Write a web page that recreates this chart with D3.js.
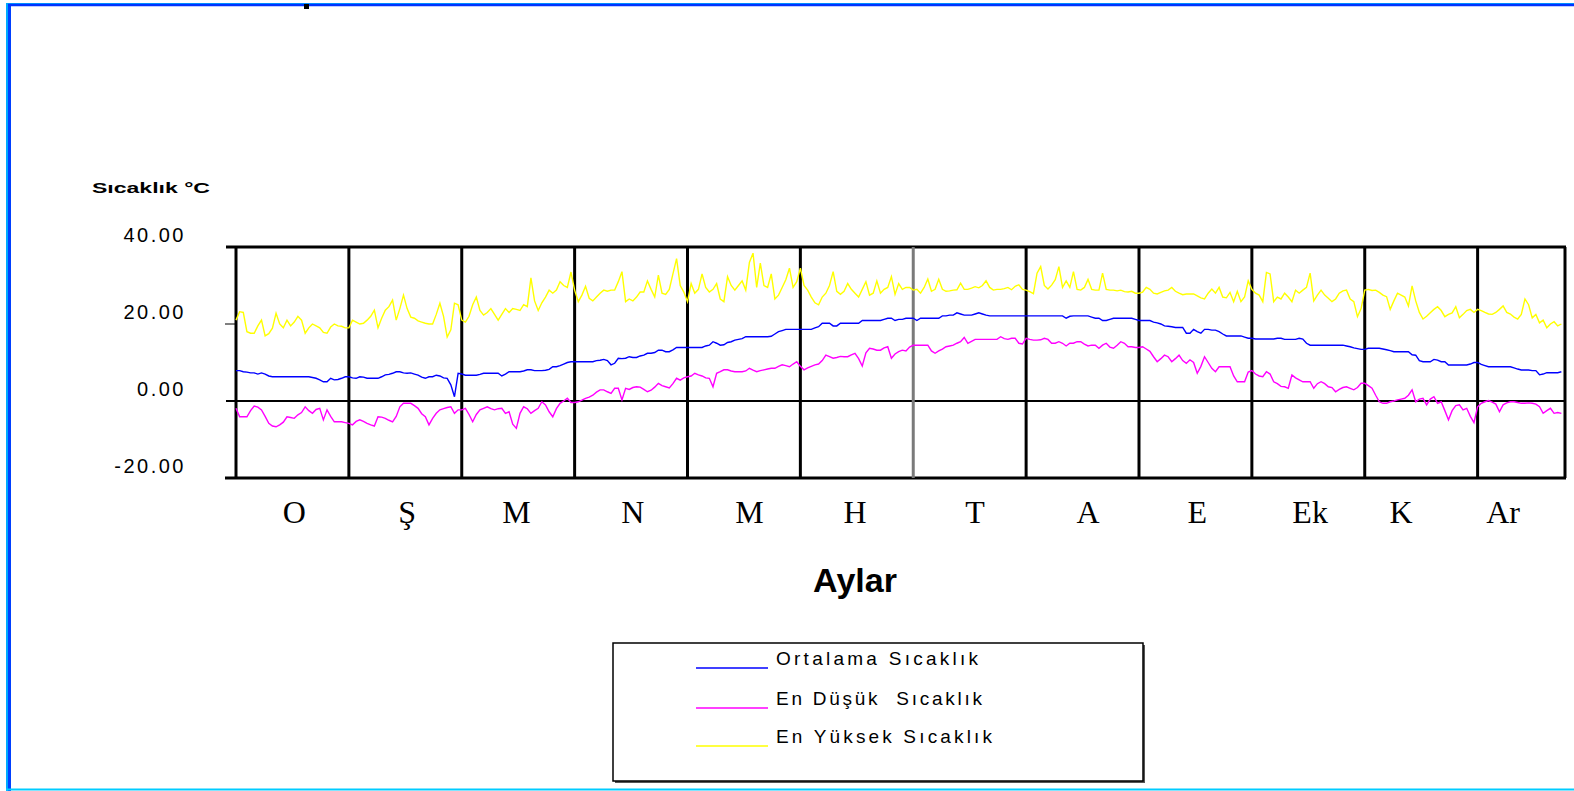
<!DOCTYPE html>
<html>
<head>
<meta charset="utf-8">
<script src="https://cdn.jsdelivr.net/npm/d3@7/dist/d3.min.js"></script>
<style>
  html, body { margin: 0; padding: 0; background: #ffffff; }
  svg { display: block; }
</style>
</head>
<body>
<svg id="chart" width="1574" height="791"></svg>
<script>
// Daily temperature series (°C), one value per day of the year.
const avgTemp = [
  7.9, 7.9, 7.6, 7.5, 7.3, 7.3, 7.0, 7.3, 7.0, 6.5, 6.3, 6.3, 6.3, 6.3, 6.3, 6.3, 6.3, 6.3, 6.3, 6.3, 6.3, 6.1, 5.9, 5.5, 5.0, 5.0, 5.9, 5.5, 5.6, 5.9, 6.3,
  6.3, 6.0, 5.9, 6.3, 6.2, 5.9, 5.9, 5.9, 5.9, 6.3, 6.8, 6.9, 7.2, 7.6, 7.6, 7.3, 7.2, 7.3, 7.0, 6.7, 6.2, 5.9, 6.3, 6.3, 6.7, 6.5, 6.0, 5.9, 4.2, 1.1, 7.2,
  7.0, 6.7, 6.7, 6.7, 6.7, 6.9, 7.2, 7.2, 7.2, 7.2, 7.2, 6.5, 7.0, 7.6, 7.6, 7.6, 7.6, 7.8, 8.1, 8.1, 7.9, 7.9, 7.9, 8.0, 8.2, 8.9, 8.9, 9.2, 9.6, 10.0, 10.2,
  10.2, 10.2, 10.2, 10.2, 10.2, 10.2, 10.5, 10.6, 10.8, 10.5, 9.4, 9.8, 11.1, 11.0, 11.1, 11.5, 11.3, 11.3, 11.7, 11.9, 12.4, 12.4, 12.6, 13.2, 13.2, 12.8, 12.8, 13.3, 13.9, 13.9, 13.9,
  13.9, 13.9, 13.9, 13.9, 13.9, 14.3, 14.5, 15.4, 15.0, 14.5, 14.6, 15.2, 15.4, 15.8, 16.0, 16.2, 16.7, 16.7, 16.7, 16.7, 16.7, 16.7, 16.7, 16.8, 17.4, 18.0, 18.3, 18.6, 18.6, 18.6, 18.6,
  18.6, 18.6, 18.6, 18.6, 19.0, 19.3, 20.2, 20.2, 20.2, 19.5, 19.5, 20.2, 20.2, 20.2, 20.2, 20.2, 20.2, 20.9, 20.9, 20.9, 20.9, 20.9, 20.9, 21.2, 21.5, 21.5, 20.9, 21.2, 21.2, 21.5, 21.5,
  21.5, 20.9, 21.5, 21.5, 21.5, 21.5, 21.5, 21.5, 22.1, 22.1, 22.3, 22.3, 22.9, 22.6, 22.3, 22.3, 22.3, 22.6, 22.9, 22.6, 22.3, 22.1, 22.1, 22.1, 22.1, 22.1, 22.1, 22.1, 22.1, 22.1, 22.1,
  22.1, 22.1, 22.1, 22.1, 22.1, 22.1, 22.1, 22.1, 22.1, 22.1, 22.1, 21.5, 22.0, 22.1, 22.1, 22.1, 22.1, 22.1, 21.8, 21.5, 21.5, 20.9, 20.9, 21.2, 21.5, 21.5, 21.5, 21.5, 21.5, 21.5, 21.2,
  20.9, 20.9, 20.9, 20.9, 20.5, 20.3, 20.0, 19.5, 19.4, 19.3, 19.1, 19.1, 19.1, 17.6, 17.6, 18.6, 18.0, 17.6, 18.6, 18.6, 18.4, 18.4, 18.0, 17.4, 16.9, 16.9, 16.9, 16.9, 16.9, 16.6, 16.3,
  16.3, 16.1, 16.1, 16.1, 16.1, 16.1, 16.1, 16.3, 16.3, 16.0, 16.0, 16.0, 16.0, 16.3, 16.1, 15.0, 14.5, 14.5, 14.5, 14.5, 14.5, 14.5, 14.5, 14.5, 14.5, 14.5, 14.3, 14.1, 13.8, 13.6, 13.4,
  13.4, 13.7, 13.7, 13.7, 13.7, 13.5, 13.3, 13.1, 12.8, 12.8, 12.8, 12.8, 12.8, 12.0, 11.9, 10.5, 10.2, 10.2, 10.2, 10.8, 10.6, 10.2, 10.2, 9.35, 9.35, 9.35, 9.35, 9.35, 9.35, 9.6, 10.0,
  10.0, 9.5, 9.2, 8.9, 8.9, 8.9, 8.9, 8.9, 8.9, 8.9, 8.6, 8.3, 8.05, 8.05, 8.05, 7.9, 7.9, 6.8, 7.0, 7.35, 7.35, 7.35, 7.35, 7.6
];

const minTemp = [
  -1.9, -4.1, -4.1, -4.1, -2.5, -1.3, -1.6, -2.3, -4.0, -5.8, -6.5, -6.7, -6.2, -5.5, -4.1, -4.3, -4.5, -3.6, -3.0, -1.5, -2.5, -3.2, -2.2, -1.9, -4.9, -2.3, -4.0, -5.4, -5.4, -5.4, -5.6,
  -5.8, -6.2, -5.3, -4.9, -5.3, -5.8, -6.2, -6.5, -4.1, -4.2, -4.5, -5.0, -5.4, -4.0, -1.5, -0.6, -0.6, -0.6, -1.2, -1.9, -3.3, -4.1, -6.2, -4.5, -3.2, -2.3, -2.0, -1.7, -1.5, -3.2, -2.3,
  -2.3, -1.9, -3.5, -5.4, -3.5, -2.3, -1.9, -1.5, -2.0, -2.3, -2.0, -1.9, -3.2, -2.8, -6.0, -7.1, -3.2, -1.5, -2.0, -3.2, -2.5, -1.9, -0.2, -1.0, -2.8, -4.1, -2.0, -0.6, 0.0, 0.7, -0.4,
  -0.4, -0.2, 0.2, 0.7, 1.0, 1.5, 2.3, 2.9, 2.9, 2.4, 2.0, 3.3, 3.3, 0.3, 3.3, 3.0, 3.5, 3.7, 3.6, 3.0, 2.4, 2.8, 3.6, 4.6, 4.0, 3.7, 3.4, 4.5, 5.9, 5.4, 6.0,
  6.3, 6.5, 7.2, 6.8, 6.5, 6.0, 5.9, 3.7, 7.2, 7.6, 8.1, 8.1, 7.8, 7.6, 7.6, 7.6, 7.8, 8.5, 8.0, 7.6, 7.9, 8.1, 8.3, 8.5, 8.5, 9.0, 9.4, 9.2, 8.9, 9.6, 10.2,
  9.0, 8.1, 8.6, 9.0, 9.4, 9.6, 10.5, 11.9, 11.5, 11.1, 11.3, 11.6, 11.5, 11.5, 12.0, 12.4, 11.0, 9.1, 12.5, 13.7, 13.5, 13.2, 13.2, 13.8, 14.1, 11.1, 12.2, 12.8, 13.2, 13.0, 14.0,
  14.5, 14.5, 14.5, 14.5, 14.5, 13.0, 12.4, 13.0, 13.5, 14.1, 14.3, 14.5, 15.0, 15.4, 16.5, 15.0, 15.5, 16.0, 16.0, 16.0, 16.0, 16.0, 16.0, 16.0, 16.7, 16.2, 16.0, 16.3, 16.3, 15.0, 14.8,
  16.3, 16.0, 15.8, 15.8, 15.9, 16.3, 16.0, 15.0, 15.0, 15.4, 15.0, 14.3, 15.0, 15.0, 15.4, 15.4, 14.8, 14.3, 14.5, 14.5, 13.7, 14.5, 15.0, 14.0, 13.7, 14.5, 15.4, 15.0, 14.1, 14.1, 13.9,
  13.9, 14.1, 13.5, 12.9, 11.5, 10.2, 11.0, 11.9, 11.5, 10.2, 11.0, 11.9, 10.5, 9.8, 10.7, 10.0, 7.2, 9.0, 11.5, 10.0, 8.5, 7.6, 8.9, 8.9, 8.9, 8.9, 6.5, 5.0, 5.0, 5.0, 7.5,
  7.9, 7.0, 6.5, 6.3, 7.6, 7.0, 5.0, 4.5, 3.8, 3.7, 3.3, 6.75, 6.0, 5.5, 5.0, 5.0, 5.0, 3.3, 4.5, 5.0, 4.5, 3.7, 3.5, 2.4, 3.0, 3.5, 3.7, 3.3, 2.9, 3.5, 4.6,
  4.6, 4.0, 3.3, 1.5, -0.2, -0.6, -0.6, -0.2, 0.0, 0.3, 0.5, 0.7, 1.5, 2.9, -0.2, 0.5, 0.7, -1.0, 0.5, 1.1, -0.6, -0.2, -2.5, -4.9, -2.5, -1.2, -1.0, -2.3, -1.9, -4.0, -5.6,
  -1.5, -0.6, -0.2, 0.1, -0.3, -0.8, -2.8, -1.0, -0.5, -0.2, -0.2, -0.4, -0.6, -0.6, -0.5, -0.6, -0.8, -1.5, -3.2, -2.5, -1.9, -3.2, -3.0, -3.2
];

const maxTemp = [
  21.0, 23.2, 23.0, 18.0, 17.6, 17.6, 19.5, 21.0, 16.9, 17.5, 18.9, 22.8, 20.0, 19.0, 21.0, 19.5, 20.5, 22.0, 21.0, 17.6, 19.0, 20.0, 19.5, 19.0, 17.8, 17.6, 19.2, 20.0, 19.5, 19.4, 19.0,
  19.0, 21.0, 20.5, 20.0, 20.2, 21.0, 22.0, 23.6, 19.0, 21.5, 23.6, 24.5, 26.2, 21.0, 24.0, 27.5, 24.0, 21.8, 21.5, 20.8, 20.5, 20.2, 20.0, 20.0, 22.5, 25.4, 22.0, 16.6, 18.5, 25.4, 25.0,
  21.0, 20.5, 22.0, 25.0, 27.0, 23.5, 22.3, 23.0, 24.0, 22.5, 21.0, 22.5, 24.0, 23.0, 24.0, 23.8, 23.5, 25.0, 24.5, 32.0, 26.0, 23.5, 25.5, 27.0, 28.8, 28.0, 28.8, 31.0, 30.0, 29.5, 33.5,
  28.8, 25.8, 27.5, 29.8, 26.7, 26.0, 27.0, 28.0, 28.8, 28.5, 28.8, 28.8, 31.0, 33.6, 25.8, 26.5, 26.0, 27.0, 28.3, 28.3, 31.2, 29.0, 27.0, 32.7, 28.0, 27.7, 29.0, 33.0, 37.0, 30.0, 28.3,
  25.8, 30.5, 28.0, 29.0, 33.0, 29.5, 28.3, 29.0, 30.5, 26.5, 25.8, 32.3, 30.0, 28.8, 30.0, 31.2, 28.8, 36.0, 38.4, 29.5, 35.8, 30.0, 29.5, 33.0, 26.5, 27.5, 29.5, 31.5, 34.5, 29.5, 31.0,
  34.5, 30.0, 28.8, 27.0, 25.5, 25.0, 27.0, 28.0, 30.0, 33.6, 28.5, 27.7, 28.5, 30.5, 29.0, 28.0, 27.0, 29.0, 31.0, 27.5, 28.0, 31.2, 28.0, 29.0, 29.5, 32.3, 27.7, 30.5, 29.0, 29.5, 29.5,
  28.8, 29.0, 28.0, 29.5, 31.7, 28.5, 29.0, 31.6, 29.0, 28.5, 28.6, 28.8, 28.9, 30.6, 29.0, 29.0, 29.3, 29.7, 29.4, 30.0, 31.2, 29.5, 28.8, 29.0, 29.0, 29.2, 29.5, 28.9, 29.8, 30.2, 29.0,
  28.8, 28.4, 27.9, 33.2, 34.9, 30.0, 29.1, 30.1, 31.5, 34.9, 29.5, 31.2, 29.5, 33.6, 29.0, 28.8, 29.5, 31.6, 29.0, 28.8, 28.8, 33.2, 29.0, 28.8, 28.8, 28.6, 28.8, 28.4, 28.3, 28.5, 28.0,
  28.0, 28.3, 29.5, 29.0, 28.0, 27.8, 28.2, 28.6, 28.8, 29.5, 28.5, 28.0, 27.6, 27.8, 27.8, 27.8, 27.3, 26.8, 26.5, 28.0, 29.1, 28.0, 29.5, 27.0, 26.8, 28.2, 25.8, 28.5, 25.8, 27.0, 31.2,
  29.0, 28.0, 27.5, 25.8, 33.4, 33.0, 25.8, 27.0, 26.5, 28.0, 27.0, 25.8, 28.8, 28.0, 28.8, 29.5, 33.2, 26.0, 27.5, 28.8, 27.5, 26.7, 25.8, 26.5, 28.0, 28.6, 28.8, 26.5, 25.8, 21.9, 24.0,
  28.8, 29.0, 28.7, 28.8, 28.2, 27.5, 27.1, 23.8, 26.0, 28.0, 27.5, 27.0, 24.7, 29.9, 26.0, 23.0, 21.3, 22.0, 22.9, 23.8, 24.5, 23.5, 21.9, 22.5, 22.9, 24.5, 21.6, 22.5, 23.5, 23.8, 23.0,
  23.8, 23.5, 23.0, 22.6, 22.5, 23.0, 23.8, 24.7, 23.0, 22.6, 21.8, 21.3, 22.5, 26.5, 25.0, 21.6, 22.5, 20.3, 21.0, 19.0, 20.0, 20.6, 19.5, 20.0
];

// Month labels and the day each one is centred on
const monthLabels = ["O", "Ş", "M", "N", "M", "H", "T", "A", "E", "Ek", "K", "Ar"];
const monthLabelDays = [16, 47, 77, 109, 141, 170, 203, 234, 264, 295, 320, 348];

// Vertical grid every 31 days across the year
const gridDays = [0, 31, 62, 93, 124, 155, 186, 217, 248, 279, 310, 341, 365];

const yTicks = [40, 20, 0, -20];

const seriesNames = ["Ortalama Sıcaklık", "En Düşük  Sıcaklık", "En Yüksek Sıcaklık"];
const seriesColors = ["#0000ff", "#ff00ff", "#ffff00"];

const svg = d3.select("#chart");

// Frame of the page
svg.append("line").attr("x1", 7).attr("y1", 3).attr("x2", 7).attr("y2", 791)
  .attr("stroke", "#00aaff").attr("stroke-width", 2);
svg.append("line").attr("x1", 9.5).attr("y1", 4).attr("x2", 9.5).attr("y2", 791)
  .attr("stroke", "#0040ff").attr("stroke-width", 3);
svg.append("line").attr("x1", 6).attr("y1", 3.5).attr("x2", 1574).attr("y2", 3.5)
  .attr("stroke", "#00aaff").attr("stroke-width", 1);
svg.append("line").attr("x1", 8).attr("y1", 5).attr("x2", 1574).attr("y2", 5)
  .attr("stroke", "#0033ff").attr("stroke-width", 2.5);
svg.append("line").attr("x1", 6).attr("y1", 789.5).attr("x2", 1574).attr("y2", 789.5)
  .attr("stroke", "#00ccff").attr("stroke-width", 2);
svg.append("rect").attr("x", 304).attr("y", 4).attr("width", 5).attr("height", 5).attr("fill", "#000");

// Scales
const x = d3.scaleLinear().domain([0, 365]).range([236, 1565]);
const y = d3.scaleLinear().domain([-20, 40]).range([478, 247]);

// Y axis labels and title
svg.append("text")
  .attr("x", 92).attr("y", 193)
  .attr("font-family", "Liberation Sans, Arial, sans-serif")
  .attr("font-weight", "bold").attr("font-size", 14)
  .attr("textLength", 118).attr("lengthAdjust", "spacingAndGlyphs")
  .text("Sıcaklık °C");

const fmt = d3.formatLocale({ decimal: ".", thousands: ",", grouping: [3], currency: ["", ""], minus: "-" }).format(".2f");
svg.append("g").selectAll("text").data(yTicks).join("text")
  .attr("x", 186).attr("y", d => y(d) - 5)
  .attr("text-anchor", "end")
  .attr("font-family", "Liberation Sans, Arial, sans-serif")
  .attr("font-size", 20)
  .attr("letter-spacing", 2.5)
  .text(d => fmt(d));

// Grid
const grid = svg.append("g");
grid.append("line").attr("x1", 226).attr("x2", x(365) + 1).attr("y1", y(40)).attr("y2", y(40))
  .attr("stroke", "#000").attr("stroke-width", 3);
grid.append("line").attr("x1", 225).attr("x2", x(365) + 1).attr("y1", y(-20)).attr("y2", y(-20))
  .attr("stroke", "#000").attr("stroke-width", 3);
grid.append("line").attr("x1", 226).attr("x2", x(365) + 1).attr("y1", y(0)).attr("y2", y(0))
  .attr("stroke", "#000").attr("stroke-width", 2.2);
grid.append("line").attr("x1", 225).attr("x2", x(0)).attr("y1", y(20)).attr("y2", y(20))
  .attr("stroke", "#000").attr("stroke-width", 1);
grid.selectAll("line.v").data(gridDays).join("line")
  .attr("class", "v")
  .attr("x1", d => x(d)).attr("x2", d => x(d))
  .attr("y1", y(40)).attr("y2", y(-20))
  .attr("stroke", d => d === 186 ? "#7a7a7a" : "#000")
  .attr("stroke-width", 3);

// Series
const line = d3.line().x((d, i) => x(i)).y(d => y(d));
[avgTemp, minTemp, maxTemp].forEach((series, k) => {
  svg.append("path")
    .datum(series)
    .attr("fill", "none")
    .attr("stroke", seriesColors[k])
    .attr("stroke-width", 1.4)
    .attr("stroke-linejoin", "miter")
    .attr("d", line);
});

// Month labels
svg.append("g").selectAll("text").data(monthLabels).join("text")
  .attr("x", (d, i) => x(monthLabelDays[i]))
  .attr("y", 523)
  .attr("text-anchor", "middle")
  .attr("font-family", "Liberation Serif, Times New Roman, serif")
  .attr("font-size", 32)
  .text(d => d);

svg.append("text")
  .attr("x", 855).attr("y", 592)
  .attr("text-anchor", "middle")
  .attr("font-family", "Liberation Sans, Arial, sans-serif")
  .attr("font-weight", "bold").attr("font-size", 34)
  .text("Aylar");

// Legend
const legend = svg.append("g");
legend.append("rect").attr("x", 615).attr("y", 645).attr("width", 530).attr("height", 138)
  .attr("fill", "#555");
legend.append("rect").attr("x", 613).attr("y", 643).attr("width", 530).attr("height", 138)
  .attr("fill", "#fff").attr("stroke", "#000").attr("stroke-width", 1.5);
const legendRowY = [665, 705, 743];
const legendTextLen = [202, 206, 216];
legend.selectAll("line.key").data(seriesNames).join("line")
  .attr("class", "key")
  .attr("x1", 696).attr("x2", 768)
  .attr("y1", (d, i) => legendRowY[i] + 3).attr("y2", (d, i) => legendRowY[i] + 3)
  .attr("stroke", (d, i) => seriesColors[i]).attr("stroke-width", 1.5);
legend.selectAll("text").data(seriesNames).join("text")
  .attr("x", 776).attr("y", (d, i) => legendRowY[i])
  .attr("font-family", "Liberation Sans, Arial, sans-serif")
  .attr("font-size", 19)
  .attr("textLength", (d, i) => legendTextLen[i])
  .attr("lengthAdjust", "spacing")
  .style("white-space", "pre")
  .text(d => d);
</script>
</body>
</html>
